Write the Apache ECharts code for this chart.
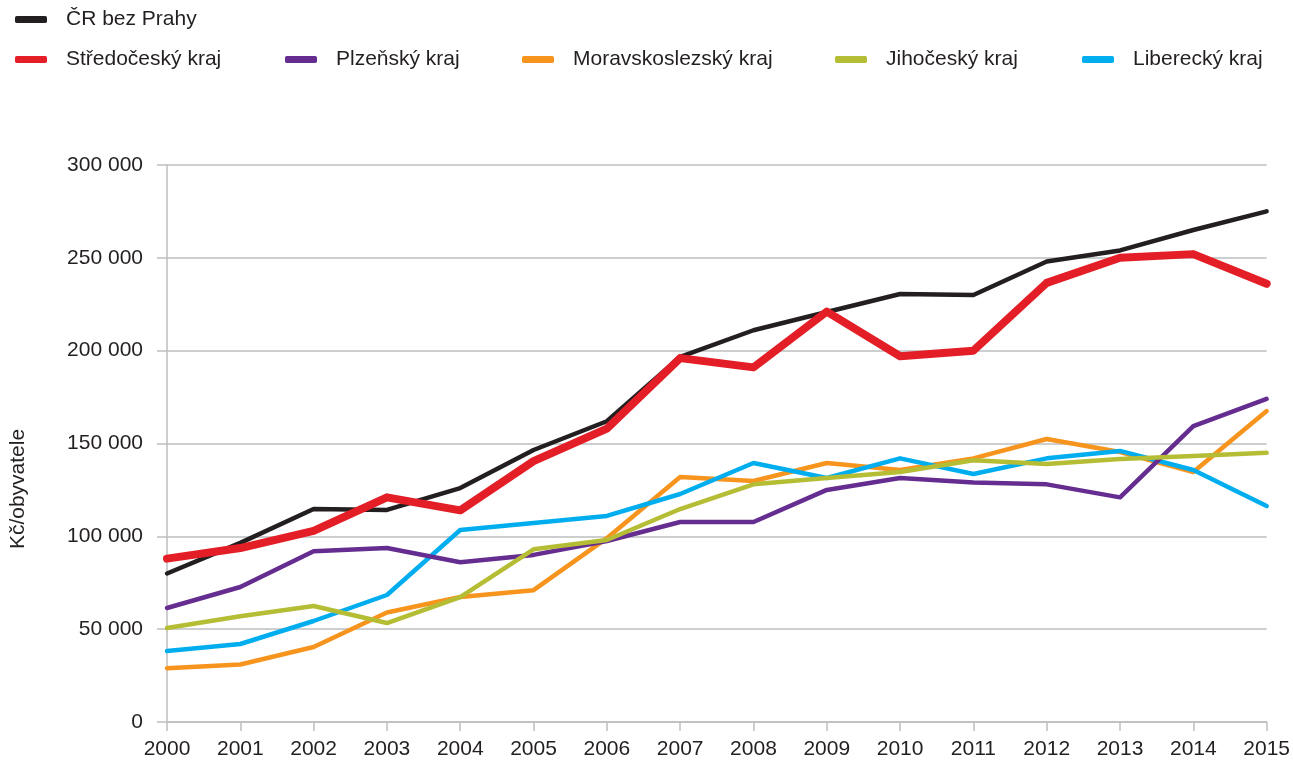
<!DOCTYPE html>
<html>
<head>
<meta charset="utf-8">
<script src="https://cdn.jsdelivr.net/npm/echarts@6/dist/echarts.min.js"></script>
<style>
html, body { margin: 0; padding: 0; background: #fff; }
#chart { width: 1293px; height: 762px; }
</style>
</head>
<body>
<div id="chart"></div>
<script>
// data
var years = ['2000','2001','2002','2003','2004','2005','2006','2007','2008','2009','2010','2011','2012','2013','2014','2015'];
var crBezPrahy = [80000, 96500, 114700, 114200, 126000, 146500, 162000, 196600, 211000, 220800, 230500, 230000, 248000, 254000, 265000, 275000];
var stredocesky = [88000, 93700, 102900, 121000, 114000, 140500, 158000, 196000, 191000, 221000, 197000, 200000, 236500, 250000, 252000, 236000];
var plzensky = [61400, 72700, 92000, 93700, 86000, 90000, 97500, 107700, 107700, 125000, 131400, 129000, 128000, 121000, 159400, 174000];
var moravskoslezsky = [29000, 31000, 40400, 59000, 67300, 71000, 99000, 132000, 129800, 139500, 135700, 142000, 152400, 145400, 134600, 167500];
var jihocesky = [50600, 57000, 62500, 53300, 67300, 93000, 98000, 114700, 128000, 131400, 134600, 141000, 139000, 141600, 143300, 145000];
var liberecky = [38200, 42000, 54400, 68400, 103400, 107200, 111000, 122800, 139500, 131400, 142000, 133600, 142000, 146000, 135700, 116300];

var font = '"Liberation Sans", Arial, sans-serif';
var textColor = '#231f20';
var gridColor = '#bcbec0';

function fmt(v) {
  return String(v).replace(/\B(?=(\d{3})+(?!\d))/g, ' ');
}

function line(name, data, color, width) {
  return {
    name: name,
    type: 'line',
    data: data,
    symbol: 'none',
    lineStyle: { color: color, width: width, cap: 'round', join: 'round' },
    itemStyle: { color: color }
  };
}

function legend(name, left, top) {
  return {
    data: [name],
    left: left,
    top: top,
    icon: 'roundRect',
    itemWidth: 32,
    itemHeight: 7,
    padding: 0,
    textStyle: { fontFamily: font, fontSize: 21, color: textColor, padding: [0, 0, 0, 14] }
  };
}

var myChart = echarts.init(document.getElementById('chart'));
var option = {
  backgroundColor: '#fff',
  animation: false,
  legend: [
    legend('ČR bez Prahy', 15, 9),
    legend('Středočeský kraj', 15, 49),
    legend('Plzeňský kraj', 285, 49),
    legend('Moravskoslezský kraj', 522, 49),
    legend('Jihočeský kraj', 835, 49),
    legend('Liberecký kraj', 1082, 49)
  ],
  grid: { left: 167, right: 25, top: 165, bottom: 40 },
  xAxis: {
    type: 'category',
    data: years,
    boundaryGap: false,
    axisLine: { lineStyle: { color: gridColor, width: 1.5 } },
    axisTick: { show: true, length: 9, lineStyle: { color: gridColor, width: 1.5 } },
    axisLabel: { color: textColor, fontFamily: font, fontSize: 21, margin: 17 },
    splitLine: { show: false }
  },
  yAxis: {
    type: 'value',
    min: 0,
    max: 300000,
    interval: 50000,
    axisLine: { show: true, lineStyle: { color: gridColor, width: 1.5 } },
    axisTick: { show: true, length: 10, lineStyle: { color: gridColor, width: 1.5 } },
    axisLabel: { color: textColor, fontFamily: font, fontSize: 21, margin: 24, formatter: fmt },
    splitLine: { lineStyle: { color: gridColor, width: 1.5 } }
  },
  graphic: [{
    type: 'text',
    x: 8,
    y: 489,
    rotation: Math.PI / 2,
    style: {
      text: 'Kč/obyvatele',
      fill: textColor,
      font: '21px ' + font,
      align: 'center',
      verticalAlign: 'top'
    }
  }],
  series: [
    line('Moravskoslezský kraj', moravskoslezsky, '#f7941d', 4.5),
    line('Liberecký kraj', liberecky, '#00aeef', 4.5),
    line('Plzeňský kraj', plzensky, '#662d91', 4.5),
    line('Jihočeský kraj', jihocesky, '#b5bd35', 4.5),
    line('ČR bez Prahy', crBezPrahy, '#231f20', 4.5),
    line('Středočeský kraj', stredocesky, '#e31e26', 8)
  ]
};
myChart.setOption(option);
</script>
</body>
</html>
